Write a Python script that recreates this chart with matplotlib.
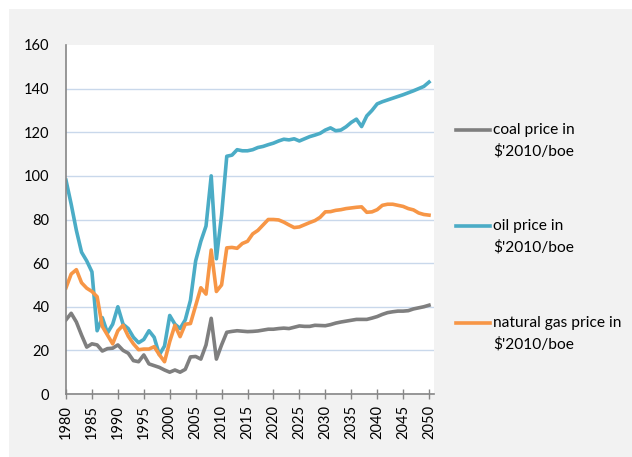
import matplotlib
matplotlib.use("Agg")
import matplotlib.pyplot as plt
from matplotlib.lines import Line2D
from matplotlib.patches import Rectangle


years = list(range(1980, 2051))

coal = [34, 37, 33, 27, 21.5, 23, 22.5, 19.7, 20.8, 21,
        22.5, 20, 18.7, 15.3, 14.8, 17.9, 13.8, 13, 12.2, 11,
        10, 11, 10, 11.3, 17, 17.2, 16, 22.5, 34.7, 16,
        22.5, 28.3, 28.7, 29, 28.8, 28.6, 28.7, 28.9, 29.3, 29.7,
        29.7, 30, 30.2, 30, 30.6, 31.2, 31, 31, 31.5, 31.4,
        31.3, 31.8, 32.5, 33, 33.4, 33.8, 34.2, 34.2, 34.2, 34.8,
        35.5, 36.5, 37.3, 37.7, 38, 38, 38.2, 39, 39.5, 40,
        40.7]

oil = [98, 87, 75, 65, 61, 56, 29, 35, 28, 32,
       40, 32, 30, 26, 23.5, 25, 29, 26, 18, 22,
       36, 32, 30, 34, 43, 61, 70, 77, 100, 62,
       82, 109, 109.5, 112, 111.5, 111.5, 112, 113, 113.5, 114.3,
       115, 116, 116.8, 116.5, 117, 116, 117, 118, 118.7, 119.5,
       121, 122, 120.7, 121, 122.5, 124.5, 126, 122.6, 127.5, 130,
       133, 134, 134.8, 135.6, 136.4, 137.2, 138.1, 139, 140, 141,
       143]

gas = [48.7, 55, 57, 51, 48.5, 47, 44.6, 31, 27, 23,
       29, 31.5, 26.5, 23, 20.3, 20.6, 20.6, 21.7, 18, 14.8,
       24, 31.5, 26.3, 32, 32.3, 40.5, 48.7, 45.8, 66, 47,
       50, 67, 67.2, 66.8, 69, 70, 73.4, 75, 77.5, 80,
       80, 79.8, 78.8, 77.5, 76.3, 76.6, 77.6, 78.6, 79.5, 81,
       83.5, 83.6, 84.2, 84.5, 85, 85.3, 85.6, 85.8, 83.3, 83.5,
       84.5, 86.5, 87, 87, 86.5, 86, 85, 84.4, 83, 82.3,
       82]

labels = ["coal price in\n$'2010/boe", "oil price in\n$'2010/boe",
          "natural gas price in\n$'2010/boe"]
colors = ["#7f7f7f", "#4bacc6", "#f79646"]

plt.rcParams["font.family"] = ["Lato", "DejaVu Sans"]
plt.rcParams["font.size"] = 10.5

W, H = 632, 457
fig = plt.figure(figsize=(W / 100, H / 100), dpi=100)
fig.add_artist(Rectangle((9 / W, 0), 1, (H - 9) / H, transform=fig.transFigure,
                         facecolor="#f2f2f2", edgecolor="none", zorder=-1))

ax = fig.add_axes([66 / W, 1 - 394 / H, (434 - 66) / W, (394 - 45) / H])
ax.set_facecolor("white")

for series, c in zip([coal, oil, gas], colors):
    ax.plot(years, series, color=c, lw=2.6, solid_joinstyle="round", zorder=3)

ax.set_xlim(1980, 2050.96)
ax.set_ylim(0, 160)
ax.set_xticks(range(1980, 2051, 5))
ax.set_yticks(range(0, 161, 20))
ax.tick_params(axis="x", direction="inout", length=6.5, width=1,
               color="#868686", pad=4.5, labelrotation=90)
ax.tick_params(axis="y", length=0, pad=12)
ax.yaxis.grid(True, color="#c9d8eb", lw=1)
ax.get_ygridlines()[-1].set_visible(False)
for s in ["top", "right"]:
    ax.spines[s].set_visible(False)
for s in ["left", "bottom"]:
    ax.spines[s].set_color("#868686")
    ax.spines[s].set_linewidth(1.2)
    ax.spines[s].set_zorder(4)

# legend drawn by hand: key sits on the first text line
rows = [130, 226, 323]
for y, lab, c in zip(rows, labels, colors):
    fig.add_artist(Line2D([456 / W, 490 / W], [1 - y / H, 1 - y / H],
                          transform=fig.transFigure, color=c, lw=2.6))
    first, second = lab.split("\n")
    fig.text(493 / W, 1 - y / H, first, va="center", ha="left", fontsize=11.2)
    fig.text(493 / W, 1 - (y + 21) / H, second, va="center", ha="left",
             fontsize=11.2)

fig.savefig("out.png", dpi=100)
